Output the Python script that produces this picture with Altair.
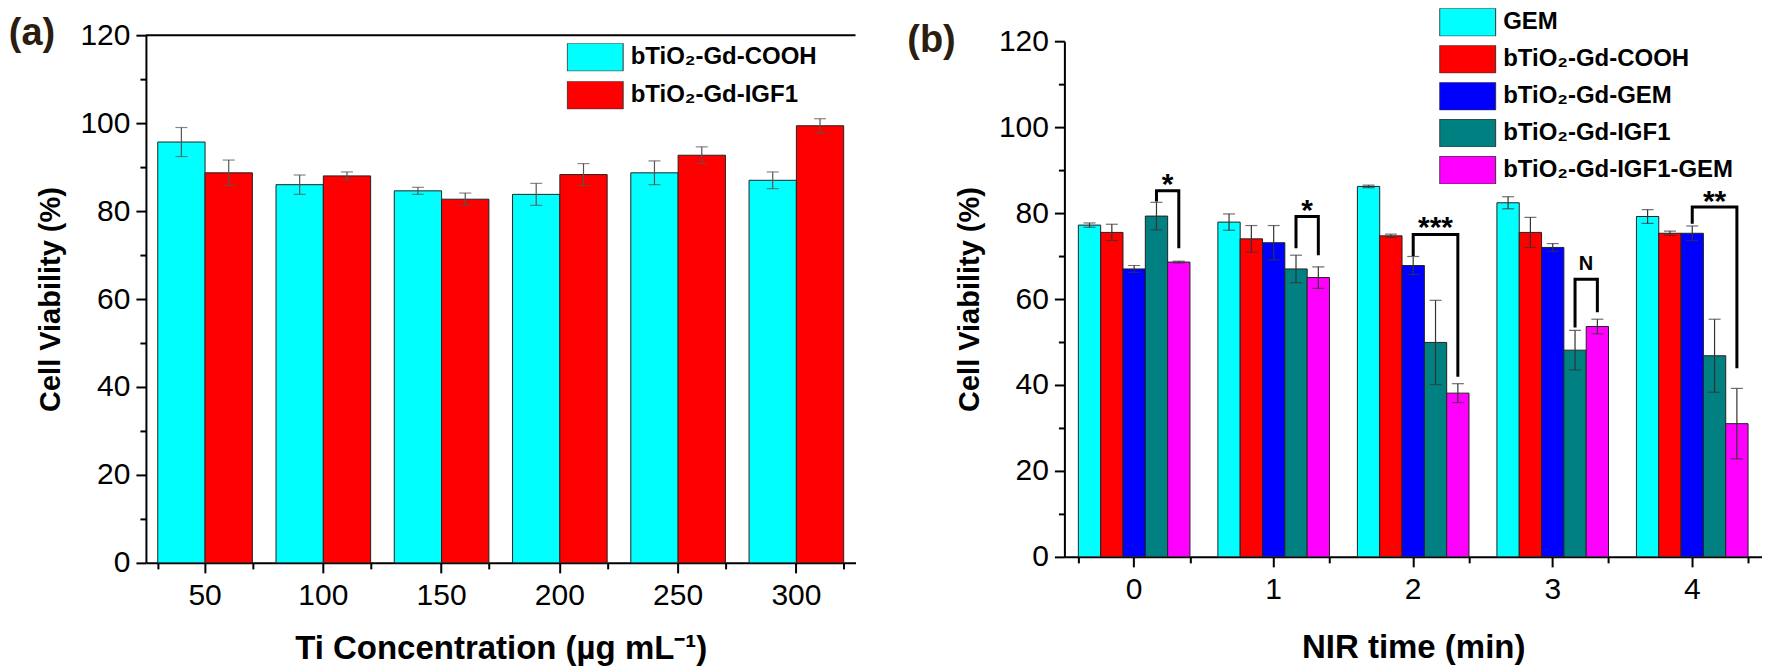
import altair as alt
import pandas as pd

FONT = "Liberation Sans"

# ---------------- Panel (a) data ----------------
conc = ["50", "100", "150", "200", "250", "300"]
a_series = ["bTiO₂-Gd-COOH", "bTiO₂-Gd-IGF1"]
a_colors = ["#00FFFF", "#FF0000"]
a_cooh = [95.7, 86.0, 84.6, 83.8, 88.7, 87.0]
a_cooh_err = [3.3, 2.2, 0.8, 2.5, 2.7, 1.9]
a_igf1 = [88.7, 88.0, 82.7, 88.3, 92.7, 99.4]
a_igf1_err = [2.9, 0.9, 1.4, 2.5, 1.9, 1.6]

# ---------------- Panel (b) data ----------------
nir = ["0", "1", "2", "3", "4"]
b_series = ["GEM", "bTiO₂-Gd-COOH", "bTiO₂-Gd-GEM", "bTiO₂-Gd-IGF1", "bTiO₂-Gd-IGF1-GEM"]
b_colors = ["#00FFFF", "#FF0000", "#0000FF", "#008080", "#FF00FF"]
b_gem = [77.2, 77.9, 86.2, 82.4, 79.2]
b_gem_err = [0.5, 1.9, 0.3, 1.4, 1.6]
b_cooh = [75.5, 74.0, 74.7, 75.5, 75.3]
b_cooh_err = [1.9, 3.1, 0.4, 3.5, 0.5]
b_gemc = [67.0, 73.1, 67.8, 72.0, 75.3]
b_gemc_err = [0.8, 4.0, 2.1, 0.9, 1.7]
b_igf1 = [79.3, 67.0, 49.9, 48.1, 46.8]
b_igf1_err = [3.2, 3.2, 9.8, 4.6, 8.5]
b_igf1gem = [68.6, 65.0, 38.1, 53.6, 31.0]
b_igf1gem_err = [0.2, 2.5, 2.2, 1.7, 8.2]

# significance brackets (panel b)
sig_group = ["0", "1", "2", "3", "4"]
sig_left = [b_series[3], b_series[3], b_series[2], b_series[3], b_series[2]]
sig_right = [b_series[4]] * 5
sig_top = [85.2, 79.2, 75.0, 64.6, 81.4]
sig_left_end = [82.7, 71.8, 70.0, 53.4, 77.5]
sig_right_end = [71.8, 70.2, 41.9, 56.9, 43.9]
sig_label = ["*", "*", "***", "N", "**"]
sig_label_y = [88.2, 82.2, 78.2, 68.3, 84.2]

# ---------------- tables ----------------
rows_a = []
for i, c in enumerate(conc):
    rows_a.append({"conc": c, "series": a_series[0], "value": a_cooh[i], "err": a_cooh_err[i]})
    rows_a.append({"conc": c, "series": a_series[1], "value": a_igf1[i], "err": a_igf1_err[i]})
df_a = pd.DataFrame(rows_a)

b_vals = [b_gem, b_cooh, b_gemc, b_igf1, b_igf1gem]
b_errs = [b_gem_err, b_cooh_err, b_gemc_err, b_igf1_err, b_igf1gem_err]
rows_b = []
for i, t in enumerate(nir):
    for s, name in enumerate(b_series):
        rows_b.append({"t": t, "series": name, "value": b_vals[s][i], "err": b_errs[s][i]})
df_b = pd.DataFrame(rows_b)

rows_br = []
for k, g in enumerate(sig_group):
    pts = [(sig_left[k], sig_left_end[k]), (sig_left[k], sig_top[k]),
           (sig_right[k], sig_top[k]), (sig_right[k], sig_right_end[k])]
    for j, (s, v) in enumerate(pts):
        rows_br.append({"t": g, "series": s, "y": v, "id": k, "seq": j})
df_br = pd.DataFrame(rows_br)

rows_lab = []
for k, g in enumerate(sig_group):
    span = b_series.index(sig_right[k]) - b_series.index(sig_left[k])
    rows_lab.append({"t": g, "series": b_series[3], "y": sig_label_y[k],
                     "label": sig_label[k], "span": span,
                     "star": sig_label[k].startswith("*")})
df_lab = pd.DataFrame(rows_lab)

WA, HA = 710, 528
WB, HB = 698, 516

RECT = "M-1,-0.5H1V0.5H-1Z"


def y_axis():
    return alt.Axis(
        title="Cell Viability (%)", values=list(range(0, 121, 10)),
        labelExpr="datum.value % 20 === 0 ? datum.label : ''",
        tickSize={"condition": {"test": "datum.value % 20 === 0", "value": 10}, "value": 6},
        labelOverlap=False, grid=False, domainColor="black", domainWidth=2,
        tickColor="black", tickWidth=2, labelFont=FONT, labelFontSize=30,
        labelColor="black", labelPadding=6, titleFont=FONT, titleFontSize=29,
        titleFontWeight="bold", titleColor="black", titlePadding=14)


def x_axis(title, tpad):
    return alt.Axis(
        title=title, labelAngle=0, tickSize=10, tickWidth=2, tickColor="black",
        domainColor="black", domainWidth=2, labelFont=FONT, labelFontSize=30,
        labelColor="black", labelPadding=8, titleFont=FONT, titleFontSize=33,
        titleFontWeight="bold", titleColor="black", titlePadding=tpad, grid=False)


def minor_x_axis():
    return alt.Axis(title=None, labels=False, domain=False, tickBand="extent",
                    tickSize=6, tickWidth=2, tickColor="black", orient="bottom", grid=False)


def legend(x, y, pad):
    return alt.Legend(title=None, orient="none", legendX=x, legendY=y,
                      symbolType=RECT, symbolSize=3136, clipHeight=28,
                      symbolStrokeColor="#333",
                      symbolStrokeWidth=1, symbolOpacity=1, labelFont=FONT,
                      labelFontSize=24, labelFontWeight="bold", labelColor="black",
                      labelLimit=500, rowPadding=pad, labelOffset=7, padding=0)


YSC = alt.Scale(domain=[0, 120], nice=False)
XS = alt.Scale(paddingInner=0.2, paddingOuter=0.1)
OS = alt.Scale(paddingInner=0, paddingOuter=0)


def Y(field):
    return alt.Y(field, scale=YSC, axis=y_axis())


def panel(df, xf, cats, series, colors, xaxis, leg, err_color):
    base = alt.Chart(df)
    bars = base.mark_bar(stroke="#222", strokeWidth=1).encode(
        x=alt.X(f"{xf}:N", sort=cats, scale=XS, axis=xaxis),
        xOffset=alt.XOffset("series:N", sort=series, scale=OS),
        y=Y("value:Q"),
        color=alt.Color("series:N", sort=series,
                        scale=alt.Scale(domain=series, range=colors), legend=leg),
    )
    eb = base.transform_calculate(
        lo="datum.value - datum.err", hi="datum.value + datum.err")
    rule = eb.mark_rule(color=err_color, strokeWidth=1.2).encode(
        x=alt.X(f"{xf}:N", sort=cats, scale=XS, axis=minor_x_axis()),
        xOffset=alt.XOffset("series:N", sort=series, scale=OS),
        y=Y("lo:Q"), y2="hi:Q")
    cap_lo = eb.mark_tick(color=err_color, size=12, thickness=1.2).encode(
        x=alt.X(f"{xf}:N", sort=cats, scale=XS, axis=None),
        xOffset=alt.XOffset("series:N", sort=series, scale=OS),
        y=Y("lo:Q"))
    cap_hi = eb.mark_tick(color=err_color, size=12, thickness=1.2).encode(
        x=alt.X(f"{xf}:N", sort=cats, scale=XS, axis=None),
        xOffset=alt.XOffset("series:N", sort=series, scale=OS),
        y=Y("hi:Q"))
    return [bars, rule, cap_lo, cap_hi]


def tag(text, x, y):
    return alt.Chart(pd.DataFrame({"tag": [text]})).mark_text(
        font=FONT, fontSize=38, fontWeight="bold", color="#2b1d10",
        align="center", baseline="middle").encode(
        text="tag:N", x=alt.value(x), y=alt.value(y))


# ---------------- Panel (a) ----------------
la = panel(df_a, "conc", conc, a_series, a_colors,
           x_axis("Ti Concentration (µg mL⁻¹)", 22), legend(421, 8, 10), "#555")
top_line = alt.Chart(pd.DataFrame({"v": [0]})).mark_rule(color="black", strokeWidth=2).encode(
    x=alt.value(0), x2=alt.value(WA), y=alt.value(0))
chart_a = alt.layer(*la, top_line, tag("(a)", -114, -1)).resolve_axis(
    x="independent").properties(width=WA, height=HA)

# ---------------- Panel (b) ----------------
lb = panel(df_b, "t", nir, b_series, b_colors,
           x_axis("NIR time (min)", 27), legend(375, -33, 9), "#333")
brackets = alt.Chart(df_br).mark_line(color="black", strokeWidth=3).encode(
    x=alt.X("t:N", sort=nir, scale=XS, axis=None),
    xOffset=alt.XOffset("series:N", sort=b_series, scale=OS),
    y=Y("y:Q"),
    detail="id:N", order="seq:Q")


def sig_text(cond, size, dx, dy):
    return alt.Chart(df_lab).transform_filter(cond).mark_text(
        font=FONT, fontSize=size, fontWeight="bold", color="black",
        align="center", baseline="middle", dx=dx, dy=dy).encode(
        x=alt.X("t:N", sort=nir, scale=XS, axis=None),
        xOffset=alt.XOffset("series:N", sort=b_series, scale=OS),
        y=Y("y:Q"), text="label:N")


st1 = sig_text("datum.star && datum.span == 1", 30, 11, 7)
st2 = sig_text("datum.star && datum.span == 2", 30, 0, 7)
stn = sig_text("!datum.star && datum.span == 1", 20, 11, 1)
stn2 = sig_text("!datum.star && datum.span == 2", 20, 0, 1)

chart_b = alt.layer(*lb, brackets, st1, st2, stn, stn2, tag("(b)", -133, 0)).resolve_axis(
    x="independent").properties(width=WB, height=HB)

chart = alt.hconcat(chart_a, chart_b, spacing=209, bounds="flush", center=True).resolve_scale(
    color="independent", xOffset="independent", x="independent", y="independent"
).configure_view(stroke=None).properties(padding=0, background="white")

chart.save("out.html", embed_options={"renderer": "svg", "actions": False})
